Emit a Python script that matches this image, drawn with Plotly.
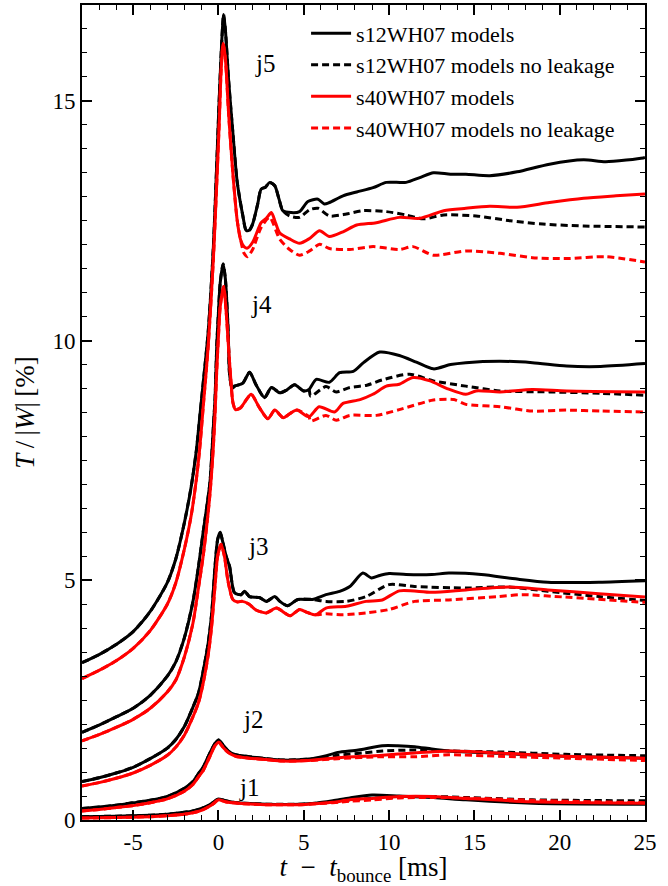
import plotly.graph_objects as go

# ---------------- data ----------------
# Each curve = common part (pre-bounce + shared early post-bounce), then a tail
# for the leakage model (solid) and a tail for the no-leakage model (dashed).

# j5, s12WH07
J5_S12_T = [-8, -7, -6, -5, -4, -3, -2.5, -2, -1.6, -1.3, -1.1, -0.9, -0.6, -0.3, -0.1, 0.05, 0.2, 0.3,
            0.4, 0.6, 0.84, 1.1, 1.43, 1.62, 1.8, 2.0, 2.3, 2.5, 2.75, 3.0, 3.3, 3.55, 3.77]
J5_S12_Y = [3.28, 3.45, 3.66, 3.93, 4.35, 4.95, 5.45, 6.2, 6.95, 7.7, 8.4, 9.1, 10.2, 11.95, 13.7, 15.1, 16.3, 16.8,
            16.5, 15.4, 14.35, 13.3, 12.6, 12.3, 12.3, 12.43, 12.85, 13.16, 13.2, 13.3, 13.23, 12.95, 12.71]
J5_S12_LK_T = [4.26, 4.75, 5.24, 5.83, 6.2, 6.5, 7.3, 8.1, 9.06, 9.84, 11.0, 11.8, 12.6, 13.6, 14.5, 15.9,
               17.5, 19.4, 21.4, 22.7, 24.9, 25]
J5_S12_LK_Y = [12.67, 12.69, 12.9, 12.95, 12.85, 12.88, 13.02, 13.1, 13.19, 13.3, 13.3, 13.4, 13.5, 13.47,
               13.47, 13.44, 13.52, 13.68, 13.77, 13.73, 13.81, 13.82]
J5_S12_NL_T = [4.17, 4.75, 5.34, 5.83, 6.5, 7.5, 8.47, 9.84, 11.0, 12.0, 13.2, 15.1, 17.1, 19.0, 21.4, 25]
J5_S12_NL_Y = [12.6, 12.57, 12.73, 12.76, 12.6, 12.64, 12.71, 12.69, 12.62, 12.54, 12.62, 12.6, 12.5, 12.43,
               12.39, 12.37]

# j5, s40WH07
J5_S40_T = [-8, -7, -6, -5, -4, -3, -2.5, -2, -1.6, -1.3, -1.1, -0.9, -0.6, -0.3, -0.1, 0.05, 0.15, 0.27,
            0.4, 0.6, 0.84, 1.1, 1.3]
J5_S40_Y = [2.95, 3.12, 3.32, 3.58, 3.95, 4.5, 4.95, 5.65, 6.35, 7.1, 7.75, 8.6, 9.9, 11.7, 13.3, 14.6, 15.6, 16.2,
            15.9, 14.7, 13.5, 12.5, 12.1]
J5_S40_LK_T = [1.53, 1.7, 2.0, 2.3, 2.5, 2.8, 3.1, 3.35, 3.58, 4.17, 4.75, 5.34, 5.93, 6.5, 7.3, 8.1, 9.25,
               10.6, 11.8, 13.2, 14.5, 15.9, 17.5, 19.4, 21.4, 23.3, 25]
J5_S40_LK_Y = [11.95, 11.93, 12.05, 12.3, 12.46, 12.55, 12.67, 12.45, 12.25, 12.12, 12.03, 12.13, 12.29, 12.17,
               12.27, 12.41, 12.46, 12.57, 12.55, 12.71, 12.76, 12.8, 12.78, 12.88, 12.97, 13.02, 13.06]
J5_S40_NL_T = [1.5, 1.7, 2.0, 2.5, 3.0, 3.58, 4.17, 4.75, 5.34, 5.93, 6.5, 7.7, 9.06, 10.6, 11.4, 12.6, 14.5,
               16.5, 18.4, 20.4, 22.7, 25]
J5_S40_NL_Y = [11.82, 11.75, 11.9, 12.36, 12.57, 12.12, 11.9, 11.78, 11.87, 12.01, 11.92, 11.9, 11.96, 11.9,
               11.96, 11.78, 11.87, 11.82, 11.73, 11.71, 11.75, 11.64]

# j4, s12WH07
J4_S12_T = [-8, -7, -6, -5, -4, -3, -2.5, -2, -1.5, -1.17, -0.9, -0.7, -0.5, -0.3, -0.2, -0.1, 0.0, 0.1, 0.27,
            0.4, 0.57, 0.65, 0.8, 0.94, 1.42, 1.82, 2.2, 2.7, 3.1, 3.6, 4.0, 4.46, 5.0, 5.3]
J4_S12_Y = [1.83, 1.98, 2.15, 2.33, 2.6, 3.0, 3.3, 3.8, 4.55, 5.29, 6.0, 6.5, 7.04, 8.2, 8.8, 9.9, 10.6, 11.2, 11.6,
            11.3, 10.17, 9.3, 9.0, 9.05, 9.11, 9.34, 9.08, 8.81, 9.02, 8.91, 8.97, 9.08, 8.95, 8.98]
J4_S12_LK_T = [5.73, 6.5, 7.1, 7.9, 8.5, 9.45, 10.6, 11.6, 12.6, 13.6, 14.5, 16.5, 18.4, 20.4, 22.4, 25]
J4_S12_LK_Y = [9.19, 9.13, 9.33, 9.36, 9.54, 9.76, 9.69, 9.55, 9.41, 9.5, 9.54, 9.57, 9.54, 9.47, 9.46, 9.52]
J4_S12_NL_T = [5.4, 6.3, 6.9, 7.7, 8.7, 9.6, 11.2, 12.6, 14.5, 16.5, 19.4, 22.4, 25]
J4_S12_NL_Y = [8.84, 9.04, 8.93, 9.02, 9.07, 9.18, 9.3, 9.16, 9.05, 8.95, 8.93, 8.9, 8.86]

# j4, s40WH07
J4_S40_T = [-8, -7, -6, -5, -4, -3, -2.5, -2, -1.5, -1.17, -0.9, -0.7, -0.5, -0.3, -0.2, -0.1, 0.0, 0.1, 0.3,
            0.45, 0.6, 0.7, 0.85, 1.0, 1.3, 1.6, 1.92, 2.4, 2.9, 3.3, 3.8, 4.2, 4.6, 5.3]
J4_S40_Y = [1.65, 1.78, 1.93, 2.1, 2.33, 2.67, 2.92, 3.4, 4.1, 4.85, 5.5, 6.1, 6.8, 7.8, 8.5, 9.4, 10.1, 10.7, 11.13,
            10.6, 9.8, 9.3, 8.7, 8.56, 8.6, 8.75, 8.88, 8.6, 8.37, 8.55, 8.39, 8.48, 8.55, 8.41]
J4_S40_LK_T = [5.9, 6.8, 7.3, 8.3, 9.05, 9.84, 10.6, 11.4, 12.4, 13.4, 14.5, 15.1, 16.5, 18.4, 20.4, 25]
J4_S40_LK_Y = [8.62, 8.51, 8.69, 8.77, 8.88, 9.05, 9.09, 9.23, 9.16, 9.0, 8.88, 8.95, 8.93, 8.98, 8.95, 8.93]
J4_S40_NL_T = [5.4, 6.3, 6.9, 7.7, 9.25, 10.6, 12.6, 13.8, 14.5, 16.5, 18.4, 20.4, 22.4, 25]
J4_S40_NL_Y = [8.32, 8.44, 8.34, 8.44, 8.44, 8.56, 8.76, 8.77, 8.67, 8.62, 8.53, 8.55, 8.53, 8.51]

# j3, s12WH07
J3_S12_T = [-8, -7, -6, -5, -4, -3, -2.5, -2, -1.5, -1.17, -0.9, -0.6, -0.4, -0.2, -0.05, 0.1,
            0.25, 0.45, 0.65, 0.94, 1.33, 1.53, 1.82, 2.4, 2.8, 3.3, 3.6, 4.05, 4.65, 5.5]
J3_S12_Y = [0.8, 0.88, 0.98, 1.1, 1.28, 1.5, 1.68, 1.95, 2.35, 2.65, 3.1, 3.7, 4.3, 5.3, 5.85, 6.0,
            5.8, 5.5, 5.29, 4.74, 4.7, 4.77, 4.66, 4.64, 4.56, 4.66, 4.56, 4.47, 4.6, 4.6]
J3_S12_LK_T = [6.3, 7.1, 7.7, 8.46, 8.96, 9.45, 10.0, 11.0, 12.5, 13.5, 15.4, 17.4, 19.3, 22.3, 25]
J3_S12_LK_Y = [4.7, 4.77, 4.87, 5.15, 5.05, 5.1, 5.14, 5.12, 5.12, 5.15, 5.12, 5.03, 4.96, 4.96, 4.99]
J3_S12_NL_T = [6.3, 7.5, 8.65, 10.0, 11.5, 14.5, 17.0, 19.3, 22.3, 25]
J3_S12_NL_Y = [4.56, 4.56, 4.66, 4.91, 4.87, 4.84, 4.86, 4.77, 4.66, 4.58]

# j3, s40WH07
J3_S40_T = [-8, -7, -6, -5, -4, -3, -2.5, -2, -1.5, -1.17, -0.9, -0.6, -0.4, -0.2, -0.05, 0.15,
            0.35, 0.55, 0.84, 1.1, 1.4, 1.8, 2.2, 2.8, 3.4, 4.2, 4.75, 5.2, 5.7]
J3_S40_Y = [0.71, 0.78, 0.87, 0.98, 1.14, 1.35, 1.52, 1.77, 2.15, 2.45, 2.85, 3.45, 4.05, 4.9, 5.5, 5.75,
            5.5, 5.0, 4.6, 4.55, 4.56, 4.5, 4.38, 4.32, 4.42, 4.26, 4.39, 4.33, 4.28]
J3_S40_LK_T = [6.3, 7.5, 8.65, 9.6, 10.6, 12.5, 14.5, 17.0, 19.3, 22.3, 25]
J3_S40_LK_Y = [4.42, 4.46, 4.56, 4.59, 4.78, 4.75, 4.8, 4.86, 4.8, 4.72, 4.65]
J3_S40_NL_T = [6.3, 7.3, 8.65, 10.0, 11.5, 13.5, 16.4, 17.8, 20.3, 25]
J3_S40_NL_Y = [4.3, 4.28, 4.32, 4.39, 4.56, 4.59, 4.66, 4.7, 4.65, 4.54]

# j2, s12WH07
J2_S12_T = [-8, -7, -6, -5, -4, -3, -2, -1.5, -1.17, -0.9, -0.5, -0.2, 0.0,
            0.3, 0.6, 1.0, 1.8, 2.8, 3.75, 5.3]
J2_S12_Y = [0.24, 0.27, 0.31, 0.36, 0.41, 0.49, 0.66, 0.8, 0.97, 1.1, 1.4, 1.6, 1.67,
            1.55, 1.43, 1.36, 1.32, 1.28, 1.25, 1.27]
J2_S12_LK_T = [6.2, 7.0, 8.2, 9.6, 10.5, 11.5, 12.5, 13.5, 16.4, 20.3, 25]
J2_S12_LK_Y = [1.33, 1.41, 1.46, 1.55, 1.55, 1.53, 1.48, 1.44, 1.39, 1.33, 1.29]
J2_S12_NL_T = [6.2, 7.0, 8.5, 9.6, 11.5, 13.5, 16.4, 20.3, 25]
J2_S12_NL_Y = [1.3, 1.35, 1.4, 1.44, 1.46, 1.44, 1.42, 1.37, 1.34]

# j2, s40WH07
J2_S40_T = [-8, -7, -6, -5, -4, -3, -2, -1.5, -1.17, -0.9, -0.5, -0.2, 0.02,
            0.3, 0.6, 1.0, 1.8, 2.8, 3.75, 5.3]
J2_S40_Y = [0.19, 0.22, 0.26, 0.3, 0.36, 0.44, 0.6, 0.74, 0.9, 1.03, 1.33, 1.55, 1.62,
            1.5, 1.4, 1.33, 1.29, 1.26, 1.23, 1.24]
J2_S40_LK_T = [7.0, 9.6, 11.5, 13.5, 16.4, 20.3, 25]
J2_S40_LK_Y = [1.3, 1.35, 1.4, 1.44, 1.4, 1.33, 1.29]
J2_S40_NL_T = [7.0, 9.6, 11.5, 13.5, 16.4, 20.3, 25]
J2_S40_NL_Y = [1.28, 1.32, 1.32, 1.36, 1.33, 1.29, 1.24]

# j1, s12WH07
J1_S12_T = [-8, -6, -4, -3, -2, -1.5, -1, -0.6, -0.3, -0.1, 0.0,
            0.4, 0.84, 1.5, 2.8, 4.75, 5.7]
J1_S12_Y = [0.07, 0.08, 0.1, 0.12, 0.16, 0.19, 0.24, 0.3, 0.37, 0.42, 0.44,
            0.4, 0.37, 0.35, 0.33, 0.33, 0.35]
J1_S12_LK_T = [6.7, 7.7, 9.0, 10.6, 12.6, 14.5, 18.4, 25]
J1_S12_LK_Y = [0.4, 0.46, 0.52, 0.5, 0.47, 0.42, 0.35, 0.33]
J1_S12_NL_T = [6.7, 7.7, 9.0, 10.6, 12.6, 14.5, 18.4, 25]
J1_S12_NL_Y = [0.37, 0.41, 0.45, 0.48, 0.49, 0.47, 0.42, 0.4]

# j1, s40WH07
J1_S40_T = [-8, -6, -4, -3, -2, -1.5, -1, -0.6, -0.3, -0.1, 0.02,
            0.4, 0.84, 1.5, 2.8, 4.75, 5.7]
J1_S40_Y = [0.04, 0.05, 0.07, 0.09, 0.12, 0.15, 0.2, 0.27, 0.34, 0.4, 0.42,
            0.38, 0.36, 0.34, 0.32, 0.32, 0.34]
J1_S40_LK_T = [6.7, 7.7, 9.0, 10.6, 12.6, 14.5, 18.4, 25]
J1_S40_LK_Y = [0.37, 0.42, 0.45, 0.49, 0.49, 0.45, 0.38, 0.35]
J1_S40_NL_T = [6.7, 7.7, 9.0, 10.6, 12.6, 14.5, 18.4, 25]
J1_S40_NL_Y = [0.36, 0.39, 0.42, 0.46, 0.47, 0.46, 0.41, 0.36]

MODEL_LABELS = ["j1", "j2", "j3", "j4", "j5"]
LABEL_T = [1.8, 2.0, 2.3, 2.5, 2.7]
LABEL_Y = [0.67, 2.09, 5.7, 10.76, 15.77]

SERIES_NAMES = ["s12WH07 models", "s12WH07 models no leakage",
                "s40WH07 models", "s40WH07 models no leakage"]

X_TICKS = [-5, 0, 5, 10, 15, 20, 25]
X_TICK_LABELS = ["-5", "0", "5", "10", "15", "20", "25"]
Y_TICKS = [0, 5, 10, 15]
Y_TICK_LABELS = ["0", "5", "10", "15"]

# ---------------- figure ----------------
FONT = "Liberation Serif"
DASH = "7px,4px"

models = [
    (J1_S12_T, J1_S12_Y, J1_S12_LK_T, J1_S12_LK_Y, J1_S12_NL_T, J1_S12_NL_Y,
     J1_S40_T, J1_S40_Y, J1_S40_LK_T, J1_S40_LK_Y, J1_S40_NL_T, J1_S40_NL_Y),
    (J2_S12_T, J2_S12_Y, J2_S12_LK_T, J2_S12_LK_Y, J2_S12_NL_T, J2_S12_NL_Y,
     J2_S40_T, J2_S40_Y, J2_S40_LK_T, J2_S40_LK_Y, J2_S40_NL_T, J2_S40_NL_Y),
    (J3_S12_T, J3_S12_Y, J3_S12_LK_T, J3_S12_LK_Y, J3_S12_NL_T, J3_S12_NL_Y,
     J3_S40_T, J3_S40_Y, J3_S40_LK_T, J3_S40_LK_Y, J3_S40_NL_T, J3_S40_NL_Y),
    (J4_S12_T, J4_S12_Y, J4_S12_LK_T, J4_S12_LK_Y, J4_S12_NL_T, J4_S12_NL_Y,
     J4_S40_T, J4_S40_Y, J4_S40_LK_T, J4_S40_LK_Y, J4_S40_NL_T, J4_S40_NL_Y),
    (J5_S12_T, J5_S12_Y, J5_S12_LK_T, J5_S12_LK_Y, J5_S12_NL_T, J5_S12_NL_Y,
     J5_S40_T, J5_S40_Y, J5_S40_LK_T, J5_S40_LK_Y, J5_S40_NL_T, J5_S40_NL_Y),
]

fig = go.Figure()
styles = [("black", "solid"), ("black", DASH), ("red", "solid"), ("red", DASH)]

for mi, m in enumerate(models):
    (a_t, a_y, a_lt, a_ly, a_nt, a_ny, b_t, b_y, b_lt, b_ly, b_nt, b_ny) = m
    curves = [
        (a_t + a_lt, a_y + a_ly),
        (a_t + a_nt, a_y + a_ny),
        (b_t + b_lt, b_y + b_ly),
        (b_t + b_nt, b_y + b_ny),
    ]
    for si, (tt, yy) in enumerate(curves):
        color, dash = styles[si]
        fig.add_trace(go.Scatter(
            x=tt, y=yy, mode="lines",
            line=dict(color=color, width=3, dash=dash, shape="spline", smoothing=0.7),
            name=SERIES_NAMES[si], legendgroup=SERIES_NAMES[si],
            showlegend=(mi == 0),
            legendrank=si + 1,
        ))

for lab, lt, ly in zip(MODEL_LABELS, LABEL_T, LABEL_Y):
    fig.add_annotation(x=lt, y=ly, text=lab, showarrow=False,
                       xanchor="center", yanchor="middle",
                       font=dict(family=FONT, size=25, color="black"))

axis_common = dict(
    showgrid=False, zeroline=False, showline=True, linecolor="black", linewidth=2,
    mirror="allticks", ticks="inside", ticklen=10, tickwidth=1.5, tickcolor="black",
    tickfont=dict(family=FONT, size=23, color="black"),
)

fig.update_xaxes(
    range=[-8, 25], tickvals=X_TICKS, ticktext=X_TICK_LABELS,
    minor=dict(ticks="inside", ticklen=5, dtick=1, tick0=0, tickcolor="black", tickwidth=1.2),
    title=dict(text="<i>t</i>\u2002\u2212\u2002<i>t</i><sub>bounce</sub> [ms]",
               font=dict(family=FONT, size=27, color="black"), standoff=2),
    **axis_common,
)
fig.update_yaxes(
    range=[0, 17], tickvals=Y_TICKS, ticktext=Y_TICK_LABELS,
    minor=dict(ticks="inside", ticklen=5, dtick=0.5, tick0=0, tickcolor="black", tickwidth=1.2),
    title=dict(text="<i>T</i>\u2009/\u2009|<i>W</i>|\u2009[%]",
               font=dict(family=FONT, size=27, color="black"), standoff=10),
    **axis_common,
)

fig.update_layout(
    width=668, height=886,
    margin=dict(l=82, r=23, t=5, b=66, autoexpand=False),
    paper_bgcolor="white", plot_bgcolor="white",
    font=dict(family=FONT, size=23, color="black"),
    legend=dict(x=0.398, y=0.991, xanchor="left", yanchor="top",
                bgcolor="rgba(0,0,0,0)", borderwidth=0,
                font=dict(family=FONT, size=22, color="black"),
                tracegroupgap=0, itemwidth=40),
)

fig.write_html("out.html")
